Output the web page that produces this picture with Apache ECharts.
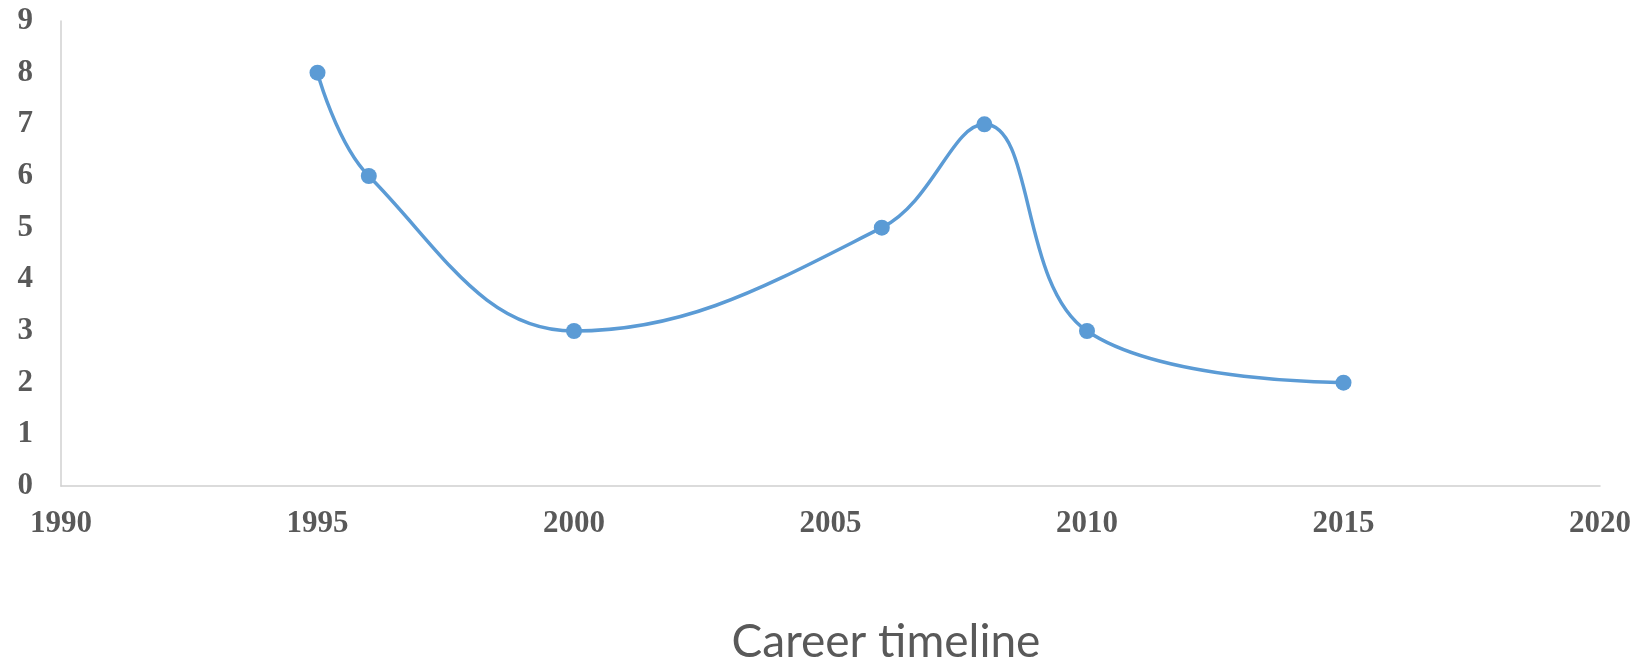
<!DOCTYPE html>
<html>
<head>
<meta charset="utf-8">
<style>
  html, body { margin: 0; padding: 0; background: #fff; }
  #chart { width: 1640px; height: 665px; }
</style>
<script src="https://cdn.jsdelivr.net/npm/echarts@6/dist/echarts.min.js"></script>
</head>
<body>
<div id="chart"></div>
<script>
// career timeline points
const years = [1995, 1996, 2000, 2006, 2008, 2010, 2015];
const values = [8, 6, 3, 5, 7, 3, 2];
const axisTitle = 'Career timeline';

const chart = echarts.init(document.getElementById('chart'));

const labelStyle = {
    color: '#595959',
    fontFamily: 'Liberation Serif',
    fontWeight: 'bold',
    fontSize: 31
};

chart.setOption({
    animation: false,
    title: {
        text: axisTitle,
        left: 881,
        top: 614,
        textAlign: 'center',
        textStyle: {
            color: '#595959',
            fontFamily: 'Lato',
            fontWeight: 'normal',
            fontSize: 46
        }
    },
    grid: {
        left: 61,
        right: 40,
        top: 21,
        bottom: 179
    },
    xAxis: {
        type: 'value',
        min: 1990,
        max: 2020,
        interval: 5,
        axisLine: { show: true, lineStyle: { color: '#d0d0d0', width: 1.5 } },
        axisTick: { show: false },
        splitLine: { show: false },
        axisLabel: Object.assign({ margin: 22, formatter: v => String(v) }, labelStyle)
    },
    yAxis: {
        type: 'value',
        min: 0,
        max: 9,
        interval: 1,
        axisLine: { show: true, lineStyle: { color: '#d0d0d0', width: 1.5 } },
        axisTick: { show: false },
        splitLine: { show: false },
        axisLabel: Object.assign({ margin: 28 }, labelStyle)
    },
    series: [{
        type: 'line',
        data: years.map((y, i) => [y, values[i]]),
        smooth: 0.4,
        symbol: 'circle',
        symbolSize: 16,
        lineStyle: { color: '#5b9bd5', width: 3.5 },
        itemStyle: { color: '#5b9bd5' }
    }]
});
</script>
</body>
</html>
